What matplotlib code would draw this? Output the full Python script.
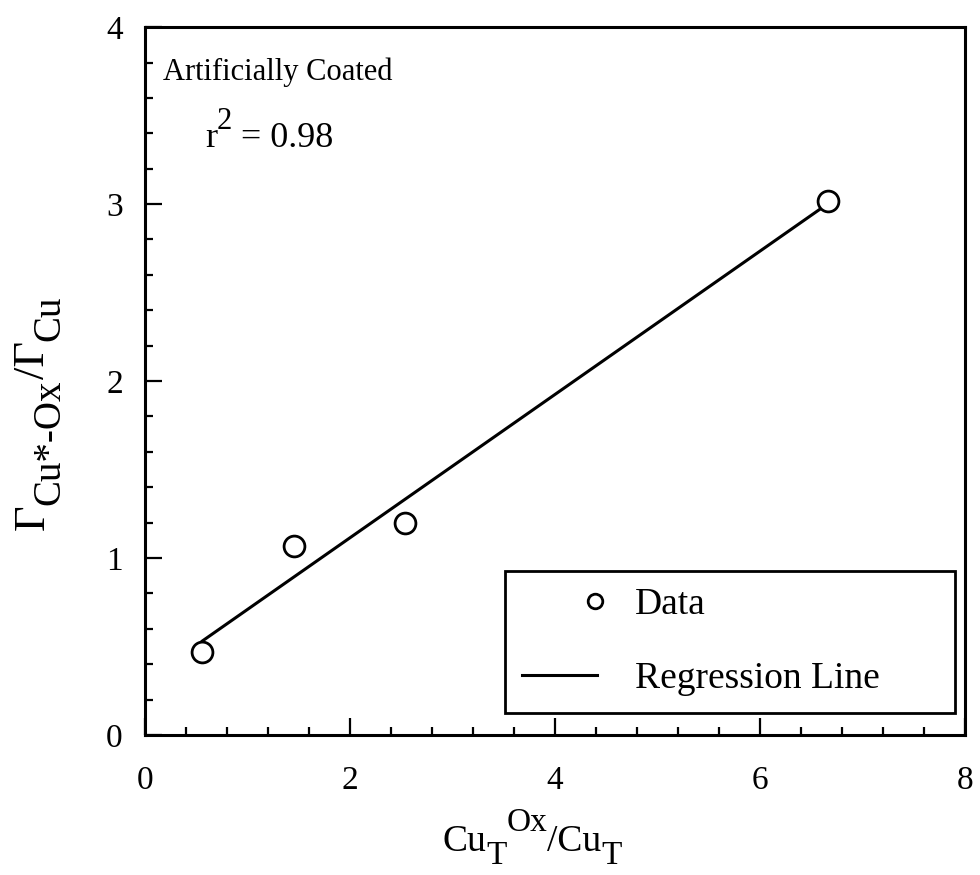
import numpy as np
import matplotlib
matplotlib.use("Agg")
from matplotlib import pyplot as plt
from matplotlib.ticker import MultipleLocator
from matplotlib.transforms import IdentityTransform
from matplotlib.legend_handler import HandlerLine2D

plt.rcParams['font.family'] = ['Liberation Serif', 'DejaVu Serif']

# data
cu_ratio = [0.56, 1.45, 2.54, 6.66]      # Cu_T^Ox / Cu_T
gamma_ratio = [0.47, 1.07, 1.20, 3.02]   # Gamma_Cu*-Ox / Gamma_Cu
r2_value = "0.98"

# regression line through the data
slope, icpt = np.polyfit(cu_ratio, gamma_ratio, 1)
xfit = np.array([min(cu_ratio), max(cu_ratio)])
yfit = slope * xfit + icpt


class RightMarker(HandlerLine2D):
    # legend marker sits at the right end of the handle
    def create_artists(self, legend, orig_handle, xdescent, ydescent,
                       width, height, fontsize, trans):
        arts = super().create_artists(legend, orig_handle, xdescent, ydescent,
                                      width, height, fontsize, trans)
        ln = arts[0]
        xd = np.asarray(ln.get_xdata(), dtype=float)
        xd[1] = xd[0] + 0.97 * (xd[-1] - xd[0])
        ln.set_xdata(xd)
        return arts


def rich_text(fig, x, y, pieces, rotation=0, center=False):
    # pieces: (text, size, baseline shift in px); x, y in pixels
    r = fig.canvas.get_renderer()
    arts = []
    pos = 0
    for s, size, shift in pieces:
        t = fig.text(0, 0, s, fontsize=size, transform=IdentityTransform(),
                     rotation=rotation, rotation_mode="anchor",
                     ha="left", va="baseline")
        bb = t.get_window_extent(r)
        arts.append((t, pos, shift))
        pos += bb.width if rotation == 0 else bb.height
    off = -pos / 2 if center else 0
    for t, p, sh in arts:
        if rotation == 0:
            t.set_position((x + p + off, y + sh))
        else:
            t.set_position((x - sh, y + p + off))


fig = plt.figure(figsize=(9.8, 8.75), dpi=100)
ax = fig.add_axes([0.148, 0.16, 0.837, 0.809])

ax.plot(xfit, yfit, color="black", lw=2.2, label="Regression Line", zorder=2)
pts, = ax.plot(cu_ratio, gamma_ratio, "o", ms=15, mfc="white", mec="black",
               mew=2.0, label="Data", zorder=3)

ax.set_xlim(0, 8)
ax.set_ylim(0, 4)
ax.xaxis.set_major_locator(MultipleLocator(2))
ax.xaxis.set_minor_locator(MultipleLocator(0.4))
ax.yaxis.set_major_locator(MultipleLocator(1))
ax.yaxis.set_minor_locator(MultipleLocator(0.2))
ax.tick_params(which="both", direction="in", width=1.6, labelsize=24,
               top=False, right=False)
ax.tick_params(which="major", length=12)
ax.tick_params(which="minor", length=6)
ax.tick_params(axis="x", which="major", pad=22)
ax.tick_params(axis="y", which="major", pad=16)
for sp in ax.spines.values():
    sp.set_linewidth(2.2)

# axis titles with big sub/superscripts, pixel coords (origin bottom left)
rich_text(fig, 532, 24, [("Cu", 27, 0), ("T", 24, -13), ("Ox", 24, 20),
                         ("/Cu", 27, 0), ("T", 24, -13)], center=True)
rich_text(fig, 44, 462, [("Γ", 32, 0), ("Cu*-Ox", 28, -15), ("/Γ", 32, 0),
                         ("Cu", 28, -15)], rotation=90, center=True)

rich_text(fig, 163, 795, [("Artificially Coated", 22, 0)])
rich_text(fig, 205, 728, [("r", 26, 0), ("2", 22, 18), (" = " + r2_value, 26, 0)])

h, l = ax.get_legend_handles_labels()
leg = ax.legend(h[::-1], l[::-1], loc="lower left", mode="expand", fontsize=27,
                frameon=True, fancybox=False, edgecolor="black", framealpha=1,
                markerscale=0.7, handlelength=2.0, borderpad=0.45,
                labelspacing=1.05, handletextpad=1.0, borderaxespad=0,
                bbox_to_anchor=(0.439, 0.031, 0.549, 0.198),
                handler_map={pts: RightMarker(numpoints=1)})
leg.get_frame().set_linewidth(2.0)

plt.savefig("out.png", dpi=100)
